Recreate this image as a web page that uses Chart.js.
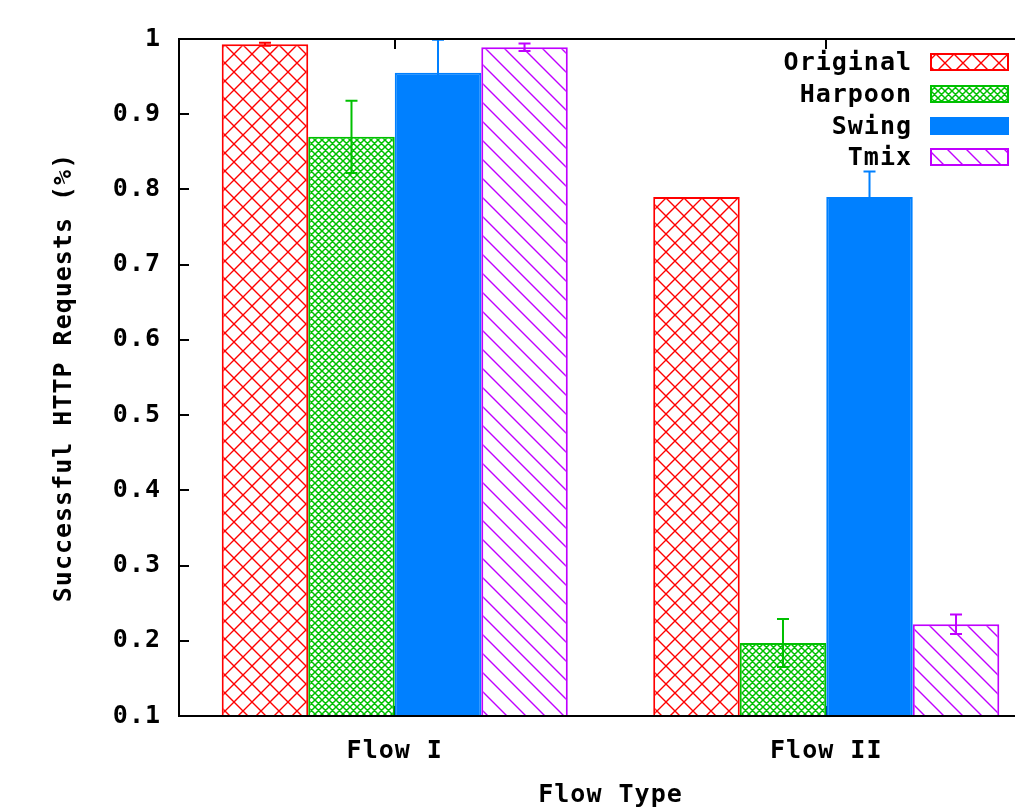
<!DOCTYPE html>
<html><head><meta charset="utf-8">
<script src="https://cdn.jsdelivr.net/npm/chart.js@4"></script>
<style>html,body{margin:0;padding:0;background:#fff;overflow:hidden}#wrap{position:relative;width:1050px;height:807px}</style>
</head><body><div id="wrap"><canvas id="c"></canvas></div>
<script>
const categories = ['Flow I', 'Flow II'];
const seriesNames = ['Original', 'Harpoon', 'Swing', 'Tmix'];
const originalValues = [0.993, 0.790];
const originalErrors = [0.002, 0];
const harpoonValues = [0.870, 0.197];
const harpoonErrors = [0.048, 0.032];
const swingValues = [0.955, 0.790];
const swingErrors = [0.044, 0.034];
const tmixValues = [0.989, 0.222];
const tmixErrors = [0.005, 0.013];
const yTickLabels = ['0.1','0.2','0.3','0.4','0.5','0.6','0.7','0.8','0.9','1'];
const xTitle = 'Flow Type';
const yTitle = 'Successful HTTP Requests (%)';

const RED = '#ff0000', GREEN = '#00c000', BLUE = '#0080ff', PURPLE = '#c000ff';
const FONTSTR = 'bold 25px "DejaVu Sans Mono", "Liberation Mono", monospace';
const FONT = {family: '"DejaVu Sans Mono", "Liberation Mono", monospace', size: 25, weight: 'bold', lineHeight: 1};
const LS = '1px';

function makePattern(kind, color) {
  if (kind === 'solid') return color;
  const c = document.createElement('canvas');
  const ctx = c.getContext('2d');
  const s = kind === 'cross' ? 18 : kind === 'fine' ? 7 : 19;
  c.width = s; c.height = s;
  ctx.fillStyle = '#fff'; ctx.fillRect(0, 0, s, s);
  ctx.strokeStyle = color;
  ctx.lineWidth = kind === 'fine' ? 1.5 : 1.4;
  ctx.beginPath();
  for (let k = -1; k <= 1; k++) {
    ctx.moveTo(-2 + k * s, -2); ctx.lineTo(s + 2 + k * s, s + 2);
    if (kind !== 'diag') { ctx.moveTo(s + 2 + k * s, -2); ctx.lineTo(-2 + k * s, s + 2); }
  }
  ctx.stroke();
  return ctx.createPattern(c, 'repeat');
}

const fills = [makePattern('cross', RED), makePattern('fine', GREEN), makePattern('solid', BLUE), makePattern('diag', PURPLE)];
const colors = [RED, GREEN, BLUE, PURPLE];
const values = [originalValues, harpoonValues, swingValues, tmixValues];
const errors = [originalErrors, harpoonErrors, swingErrors, tmixErrors];

const datasets = seriesNames.map((n, i) => ({
  label: n, data: values[i], errors: errors[i],
  backgroundColor: fills[i], borderColor: colors[i], borderWidth: 2,
  categoryPercentage: 0.802, barPercentage: 1.0, borderSkipped: false
}));

const letterSpacingPlugin = {
  id: 'ls',
  beforeUpdate(chart) { chart.ctx.letterSpacing = LS; },
  beforeDraw(chart) { chart.ctx.letterSpacing = LS; }
};

const ticksPlugin = {
  id: 'ticksBehind',
  beforeDatasetsDraw(chart) {
    const {ctx, chartArea: a, scales: {x, y}} = chart;
    ctx.save();
    ctx.strokeStyle = '#000'; ctx.lineWidth = 2;
    ctx.beginPath();
    y.ticks.forEach((t) => {
      const py = Math.round(y.getPixelForValue(t.value));
      ctx.moveTo(a.left, py); ctx.lineTo(a.left + 10, py);
      ctx.moveTo(a.right, py); ctx.lineTo(a.right - 10, py);
    });
    categories.forEach((c, i) => {
      const px = Math.round(x.getPixelForValue(i));
      ctx.moveTo(px, a.top); ctx.lineTo(px, a.top + 10);
      ctx.moveTo(px, a.bottom); ctx.lineTo(px, a.bottom - 10);
    });
    ctx.stroke();
    ctx.restore();
  }
};

const overlayPlugin = {
  id: 'overlay',
  afterDatasetsDraw(chart) {
    const {ctx, chartArea: a, scales: {y}} = chart;
    ctx.save();
    chart.data.datasets.forEach((ds, di) => {
      const meta = chart.getDatasetMeta(di);
      ctx.strokeStyle = ds.borderColor; ctx.lineWidth = 2;
      meta.data.forEach((bar, i) => {
        const e = ds.errors[i];
        if (!e) return;
        const v = ds.data[i];
        const yt = Math.max(a.top, y.getPixelForValue(v + e));
        const yb = y.getPixelForValue(v - e);
        ctx.beginPath();
        ctx.moveTo(bar.x, yt); ctx.lineTo(bar.x, yb);
        ctx.moveTo(bar.x - 6, yt); ctx.lineTo(bar.x + 6, yt);
        ctx.moveTo(bar.x - 6, yb); ctx.lineTo(bar.x + 6, yb);
        ctx.stroke();
      });
    });
    ctx.strokeStyle = '#000'; ctx.lineWidth = 2;
    ctx.strokeRect(a.left, a.top, a.right - a.left, a.bottom - a.top);
    ctx.letterSpacing = LS;
    ctx.font = FONTSTR;
    ctx.textAlign = 'right'; ctx.textBaseline = 'middle'; ctx.fillStyle = '#000';
    const rows = [62, 94, 126, 157];
    chart.data.datasets.forEach((ds, di) => {
      const cy = rows[di];
      ctx.fillText(ds.label, 912, cy + 1);
      ctx.fillStyle = ds.backgroundColor;
      ctx.fillRect(931, cy - 8, 77, 16);
      ctx.strokeStyle = ds.borderColor; ctx.lineWidth = 2;
      ctx.strokeRect(931, cy - 8, 77, 16);
      ctx.fillStyle = '#000';
    });
    ctx.restore();
  }
};

new Chart(document.getElementById('c'), {
  type: 'bar',
  data: {labels: categories, datasets},
  plugins: [letterSpacingPlugin, ticksPlugin, overlayPlugin],
  options: {
    responsive: true, maintainAspectRatio: false, animation: false, devicePixelRatio: 1,
    layout: {padding: {top: 39, right: 8, left: 0, bottom: 0}},
    plugins: {legend: {display: false}, tooltip: {enabled: false}},
    scales: {
      x: {
        grid: {display: false, drawTicks: false}, border: {display: false},
        ticks: {color: '#000', font: FONT, padding: 23, maxRotation: 0},
        title: {display: true, text: xTitle, color: '#000', font: FONT, padding: {top: 0, bottom: -1}},
        afterFit(s) { s.height = 91; }
      },
      y: {
        min: 0.1, max: 1,
        grid: {display: false, drawTicks: false}, border: {display: false},
        ticks: {stepSize: 0.1, color: '#000', font: FONT, padding: 18,
          callback: (v, i) => yTickLabels[i]},
        title: {display: true, text: yTitle, color: '#000', font: FONT, padding: {top: 52, bottom: 0}},
        afterFit(s) { s.width = 179; }
      }
    }
  }
});
</script></body></html>
